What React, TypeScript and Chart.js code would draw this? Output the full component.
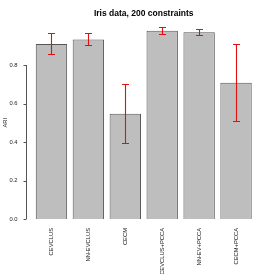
import { useEffect, useRef } from 'react';
import { Chart, registerables } from 'chart.js';
Chart.register(...registerables);

const categories = ['CEVCLUS', 'NN-EVCLUS', 'CECM', 'CEVCLUS+PCCA', 'NN-EV+PCCA', 'CECM+PCCA'];
const ariMean = [0.909, 0.933, 0.547, 0.978, 0.970, 0.708];
const ariUpper = [0.965, 0.965, 0.703, 0.996, 0.985, 0.907];
const ariLower = [0.856, 0.904, 0.393, 0.959, 0.954, 0.507];
const yTicks = [0, 0.2, 0.4, 0.6, 0.8];

const FONT = '"Liberation Sans", Arial, Helvetica, sans-serif';

const errorBarPlugin = {
  id: 'errorBars',
  afterDatasetsDraw(chart: any) {
    const ctx = chart.ctx;
    const meta = chart.getDatasetMeta(0);
    const y = chart.scales.y;
    ctx.save();
    ctx.strokeStyle = '#e01010';
    ctx.lineWidth = 1.1;
    meta.data.forEach((bar: any, i: number) => {
      const x = Math.round(bar.x) + 0.5;
      const yt = Math.round(y.getPixelForValue(ariUpper[i])) + 0.5;
      const yb = Math.round(y.getPixelForValue(ariLower[i])) + 0.5;
      ctx.beginPath();
      ctx.moveTo(x, yt);
      ctx.lineTo(x, yb);
      ctx.moveTo(x - 3.5, yt);
      ctx.lineTo(x + 3.5, yt);
      ctx.moveTo(x - 3.5, yb);
      ctx.lineTo(x + 3.5, yb);
      ctx.stroke();
    });
    ctx.restore();
  },
};

const yAxisPlugin = {
  id: 'rAxis',
  afterDraw(chart: any) {
    const ctx = chart.ctx;
    const y = chart.scales.y;
    const ax = chart.chartArea.left - 6.5;
    ctx.save();
    ctx.strokeStyle = '#555';
    ctx.lineWidth = 1;
    ctx.beginPath();
    ctx.moveTo(ax, y.getPixelForValue(yTicks[0]));
    ctx.lineTo(ax, y.getPixelForValue(yTicks[yTicks.length - 1]));
    yTicks.forEach((t) => {
      const py = Math.round(y.getPixelForValue(t)) + 0.5;
      ctx.moveTo(ax, py);
      ctx.lineTo(ax - 3, py);
    });
    ctx.stroke();
    ctx.fillStyle = '#222';
    ctx.font = `5.8px ${FONT}`;
    ctx.textAlign = 'right';
    ctx.textBaseline = 'middle';
    yTicks.forEach((t) => {
      ctx.fillText(t.toFixed(1), ax - 9, y.getPixelForValue(t));
    });
    const cy = (chart.chartArea.top + chart.chartArea.bottom) / 2;
    ctx.translate(5, cy);
    ctx.rotate(-Math.PI / 2);
    ctx.textAlign = 'center';
    ctx.fillText('ARI', 0, 0);
    ctx.restore();
  },
};

export default function App() {
  const ref = useRef<HTMLCanvasElement | null>(null);
  useEffect(() => {
    document.body.style.margin = '0';
    if (!ref.current) return;
    const chart = new Chart(ref.current, {
      type: 'bar',
      data: {
        labels: categories,
        datasets: [
          {
            data: ariMean,
            backgroundColor: '#bebebe',
            borderColor: '#555555',
            borderWidth: 1,
            barPercentage: 0.85,
            categoryPercentage: 1,
          },
        ],
      },
      options: {
        responsive: false,
        animation: false,
        layout: { padding: { left: 33, right: 19.5, top: 0, bottom: 0 } },
        plugins: {
          legend: { display: false },
          tooltip: { enabled: false },
          title: {
            display: true,
            text: 'Iris data, 200 constraints',
            fullSize: false,
            color: '#000',
            font: { family: FONT, size: 8.5, weight: 'bold', lineHeight: 1.2 },
            padding: { top: 8.9, bottom: 7.4 },
          },
        },
        scales: {
          x: {
            grid: { display: false },
            border: { display: false },
            ticks: {
              autoSkip: false,
              minRotation: 90,
              maxRotation: 90,
              padding: 1,
              color: '#111',
              font: { family: FONT, size: 5.8 },
            },
            afterFit: (scale: any) => {
              scale.height = 55;
            },
          },
          y: {
            display: false,
            min: 0,
            max: 1,
          },
        },
      },
      plugins: [errorBarPlugin, yAxisPlugin],
    });
    return () => chart.destroy();
  }, []);
  return (
    <div style={{ width: 274, height: 274, background: '#fff' }}>
      <canvas ref={ref} width={274} height={274} />
    </div>
  );
}
